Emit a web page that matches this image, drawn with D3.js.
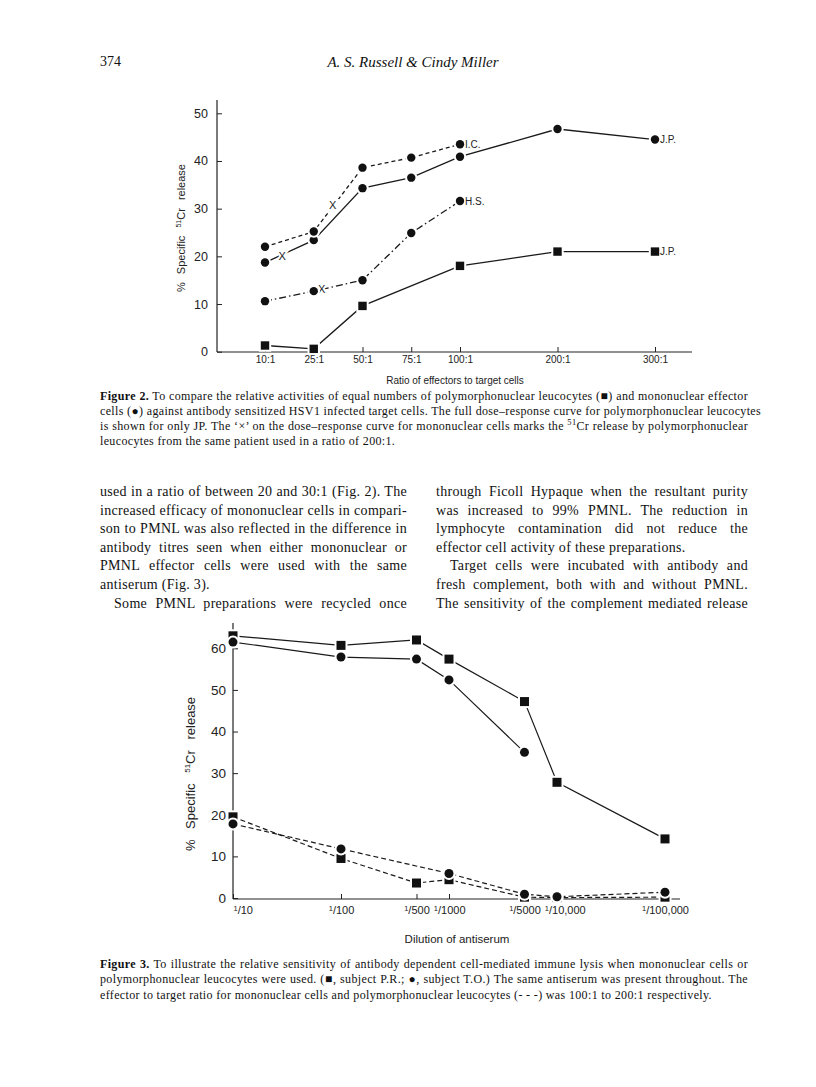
<!DOCTYPE html>
<html>
<head>
<meta charset="utf-8">
<script src="https://cdn.jsdelivr.net/npm/d3@7"></script>
<style>
  body { margin: 0; background: #fff; }
  #page { position: relative; width: 816px; height: 1087px; overflow: hidden; background: #fff; }
  svg { position: absolute; left: 0; top: 0; }
  svg text { font-family: "Liberation Sans", Arial, sans-serif; fill: #222; }
  .ln { position: absolute; white-space: nowrap; color: #111;
        font-family: "Liberation Serif", "Times New Roman", serif; }
  .just { text-align: justify; text-align-last: justify; }
  .ln sup { font-size: 70%; line-height: 0; }
</style>
</head>
<body>
<div id="page"></div>
<script>
"use strict";

// ---- Figure 2 data: ratio of effectors to target cells ----
var ratioLabels = ["10:1", "25:1", "50:1", "75:1", "100:1", "200:1", "300:1"];
var ratioSteps  = [0, 1, 2, 3, 4, 6, 8];          // printed axis is not to scale
var jpMono = [18.7, 23.4, 34.3, 36.5, 40.9, 46.7, 44.5];
var icMono = [22.0, 25.2, 38.6, 40.7, 43.5, null, null];
var hsMono = [10.6, 12.7, 15.0, 24.9, 31.6, null, null];
var jpPmnl = [1.3, 0.6, 9.6, null, 18.0, 21.0, 21.0];
// the 'x' marks: PMNL release at 200:1 placed on each mononuclear curve
var pmnlMarkStep  = [0.35, 1.39, 1.16];
var pmnlMarkValue = [20.1, 30.8, 13.1];
var fig2Ticks = [0, 10, 20, 30, 40, 50];

// ---- Figure 3 data: dilution of antiserum ----
var dilutions      = [10, 100, 500, 1000, 5000, 10000, 100000];
var dilutionLabels = ["10", "100", "500", "1000", "5000", "10,000", "100,000"];
var prMono = [63.0, 60.7, 62.0, 57.4, 47.2, 27.8, 14.2];
var toMono = [61.5, 57.9, 57.4, 52.4, 35.0, null, null];
var prPmnl = [19.5, 9.5, 3.6, 4.4, 0.2, 0.1, 0.2];
var toPmnl = [17.8, 11.8, null, 5.9, 0.9, 0.3, 1.4];
var fig3Ticks = [0, 10, 20, 30, 40, 50, 60];

// ---- page text ----
var fig2Caption = [
  "<b>Figure 2.</b> To compare the relative activities of equal numbers of polymorphonuclear leucocytes (&#9632;) and mononuclear effector",
  "cells (&#9679;) against antibody sensitized HSV1 infected target cells. The full dose&ndash;response curve for polymorphonuclear leucocytes",
  "is shown for only JP. The &lsquo;&times;&rsquo; on the dose&ndash;response curve for mononuclear cells marks the <sup>51</sup>Cr release by polymorphonuclear",
  "leucocytes from the same patient used in a ratio of 200:1."
];
var leftCol = [
  "used in a ratio of between 20 and 30:1 (Fig. 2). The",
  "increased efficacy of mononuclear cells in compari-",
  "son to PMNL was also reflected in the difference in",
  "antibody titres seen when either mononuclear or",
  "PMNL effector cells were used with the same",
  "antiserum (Fig. 3).",
  "Some PMNL preparations were recycled once"
];
var rightCol = [
  "through Ficoll Hypaque when the resultant purity",
  "was increased to 99% PMNL. The reduction in",
  "lymphocyte contamination did not reduce the",
  "effector cell activity of these preparations.",
  "Target cells were incubated with antibody and",
  "fresh complement, both with and without PMNL.",
  "The sensitivity of the complement mediated release"
];
var fig3Caption = [
  "<b>Figure 3.</b> To illustrate the relative sensitivity of antibody dependent cell-mediated immune lysis when mononuclear cells or",
  "polymorphonuclear leucocytes were used. (&#9632;, subject P.R.; &#9679;, subject T.O.) The same antiserum was present throughout. The",
  "effector to target ratio for mononuclear cells and polymorphonuclear leucocytes (- - -) was 100:1 to 200:1 respectively."
];

var page = d3.select("#page");

function textLine(x, yc, w, html, size, spacing, justify, indent) {
  var lh = Math.round(size * 1.3);
  page.append("div")
      .attr("class", "ln" + (justify ? " just" : ""))
      .style("left", (x + (indent || 0)) + "px")
      .style("top", (yc - lh / 2) + "px")
      .style("width", (w - (indent || 0)) + "px")
      .style("height", lh + "px")
      .style("line-height", lh + "px")
      .style("font-size", size + "px")
      .style("letter-spacing", spacing + "px")
      .html(html);
}

// running head
textLine(100, 62, 60, "374", 14, 0, false);
page.append("div").attr("class", "ln")
    .style("left", "213px").style("width", "400px").style("top", "53px")
    .style("text-align", "center").style("font-size", "15px").style("font-style", "italic")
    .style("line-height", "18px")
    .text("A. S. Russell & Cindy Miller");

fig2Caption.forEach(function(s, i) {
  textLine(100, 396 + i * 15, 648, s, 12, 0.35, i < fig2Caption.length - 1);
});
leftCol.forEach(function(s, i) {
  textLine(100, 492 + i * 18.6, 307, s, 14, 0.3, i != 5, i == 6 ? 14 : 0);
});
rightCol.forEach(function(s, i) {
  textLine(436, 492 + i * 18.6, 312, s, 14, 0.3, i != 3, i == 4 ? 14 : 0);
});
fig3Caption.forEach(function(s, i) {
  textLine(100, 964 + i * 15.3, 648, s, 12, 0.35, i < fig3Caption.length - 1);
});

var svg = page.append("svg").attr("width", 816).attr("height", 1087);

function series(vals, xs) {
  return vals.map(function(v, i) { return { x: xs[i], v: v }; })
             .filter(function(d) { return d.v != null; });
}

function drawMarkers(g, data, shape, size) {
  var halo = g.append("g"), fill = g.append("g");
  data.forEach(function(d) {
    if (shape == "circle") {
      halo.append("circle").attr("cx", d.px).attr("cy", d.py).attr("r", size + 2).attr("fill", "#fff");
      fill.append("circle").attr("cx", d.px).attr("cy", d.py).attr("r", size).attr("fill", "#111");
    } else {
      halo.append("rect").attr("x", d.px - size - 2).attr("y", d.py - size - 2)
          .attr("width", 2 * size + 4).attr("height", 2 * size + 4).attr("fill", "#fff");
      fill.append("rect").attr("x", d.px - size).attr("y", d.py - size)
          .attr("width", 2 * size).attr("height", 2 * size).attr("fill", "#111");
    }
  });
}

/*
  Figure 2
*/
var x2 = d3.scaleLinear().domain([0, 8]).range([265, 655]);
var y2 = d3.scaleLinear().domain([0, 50]).range([351.7, 113.3]);
var g2 = svg.append("g");

g2.append("line").attr("x1", 217).attr("x2", 217).attr("y1", 100).attr("y2", 352)
    .attr("stroke", "#222").attr("stroke-width", 1.2);
g2.append("line").attr("x1", 217).attr("x2", 692).attr("y1", 352).attr("y2", 352)
    .attr("stroke", "#222").attr("stroke-width", 1.2);

var yAxis2 = g2.append("g").attr("transform", "translate(217,0)")
    .call(d3.axisLeft(y2).tickValues(fig2Ticks).tickSize(-5).tickPadding(9));
yAxis2.select(".domain").remove();
yAxis2.selectAll("text").attr("font-size", 12.5).style("font-family", "Liberation Sans, sans-serif").attr("fill", "#222");
yAxis2.selectAll("line").attr("stroke", "#222");

var xAxis2 = g2.append("g").attr("transform", "translate(0,352)")
    .call(d3.axisBottom(x2).tickValues(ratioSteps)
      .tickFormat(function(d, i) { return ratioLabels[i]; })
      .tickSize(-5).tickPadding(4));
xAxis2.select(".domain").remove();
xAxis2.selectAll("text").attr("font-size", 10).style("font-family", "Liberation Sans, sans-serif").attr("fill", "#222");
xAxis2.selectAll("line").attr("stroke", "#222");

g2.append("text").attr("x", 455).attr("y", 384).attr("text-anchor", "middle")
    .attr("font-size", 10).text("Ratio of effectors to target cells");

var yl2 = g2.append("text").attr("transform", "translate(185,228) rotate(-90)")
    .attr("text-anchor", "middle").attr("font-size", 11).attr("word-spacing", 5);
yl2.append("tspan").text("% Specific ");
yl2.append("tspan").attr("font-size", 7).attr("dy", -4).text("51");
yl2.append("tspan").attr("dy", 4).text("Cr  release");

var line2 = d3.line().x(function(d) { return x2(d.x); }).y(function(d) { return y2(d.v); });
var fig2Series = [
  { vals: jpMono, shape: "circle", dash: null, label: "J.P." },
  { vals: icMono, shape: "circle", dash: "4,3", label: "I.C." },
  { vals: hsMono, shape: "circle", dash: "7,3,1.5,3", label: "H.S." },
  { vals: jpPmnl, shape: "square", dash: null, label: "J.P." }
];
fig2Series.forEach(function(s) {
  var d = series(s.vals, ratioSteps);
  g2.append("path").datum(d).attr("d", line2).attr("fill", "none")
      .attr("stroke", "#1a1a1a").attr("stroke-width", 1.3)
      .attr("stroke-dasharray", s.dash);
});
// 'x' marks sit on the curves, breaking the line
pmnlMarkStep.forEach(function(st, i) {
  g2.append("text").attr("x", x2(st)).attr("y", y2(pmnlMarkValue[i]))
      .attr("dy", "0.36em").attr("text-anchor", "middle").attr("font-size", 11)
      .attr("stroke", "#fff").attr("stroke-width", 4).attr("paint-order", "stroke")
      .text("X");
});
fig2Series.forEach(function(s) {
  var d = series(s.vals, ratioSteps).map(function(p) {
    return { px: x2(p.x), py: y2(p.v) };
  });
  drawMarkers(g2, d, s.shape, 4.2);
  var lastPt = d[d.length - 1];
  g2.append("text").attr("x", lastPt.px + 5).attr("y", lastPt.py).attr("dy", "0.35em")
      .attr("font-size", 10).text(s.label);
});

/*
  Figure 3
*/
var x3 = d3.scaleLog().domain([10, 100000]).range([233, 665]);
var y3 = d3.scaleLinear().domain([0, 60]).range([898, 648.3]);
var g3 = svg.append("g");

g3.append("line").attr("x1", 233).attr("x2", 233).attr("y1", 623).attr("y2", 899)
    .attr("stroke", "#222").attr("stroke-width", 1.2);
g3.append("line").attr("x1", 233).attr("x2", 680).attr("y1", 899).attr("y2", 899)
    .attr("stroke", "#222").attr("stroke-width", 1.2);

var yAxis3 = g3.append("g").attr("transform", "translate(233,0)")
    .call(d3.axisLeft(y3).tickValues(fig3Ticks).tickSize(-5).tickPadding(7));
yAxis3.select(".domain").remove();
yAxis3.selectAll("text").attr("font-size", 13.5).style("font-family", "Liberation Sans, sans-serif").attr("fill", "#222");
yAxis3.selectAll("line").attr("stroke", "#222");

var xAxis3 = g3.append("g").attr("transform", "translate(0,899)")
    .call(d3.axisBottom(x3).tickValues(dilutions).tickFormat("").tickSize(-5));
xAxis3.select(".domain").remove();
xAxis3.selectAll("line").attr("stroke", "#222");
var prevRight = -Infinity;
xAxis3.selectAll(".tick").each(function(d, i) {
  var t = d3.select(this).append("text").attr("y", 15).attr("text-anchor", "middle")
      .attr("font-size", 11).attr("fill", "#222")
      .style("font-family", "Liberation Sans, sans-serif");
  t.append("tspan").attr("font-size", 7.5).attr("dy", -3).text("1");
  t.append("tspan").attr("dy", 3).text("/" + dilutionLabels[i]);
  // push a label right if it would run into the one before it
  var w = t.node().getComputedTextLength(), left = x3(d) - w / 2;
  if (i == 0) left = x3(d);
  if (left < prevRight + 4) left = prevRight + 4;
  t.attr("text-anchor", "start").attr("x", left - x3(d));
  prevRight = left + w;
});

g3.append("text").attr("x", 457).attr("y", 943).attr("text-anchor", "middle")
    .attr("font-size", 11.5).text("Dilution of antiserum");

var yl3 = g3.append("text").attr("transform", "translate(195,774) rotate(-90)")
    .attr("text-anchor", "middle").attr("font-size", 13).attr("word-spacing", 7);
yl3.append("tspan").text("% Specific ");
yl3.append("tspan").attr("font-size", 8).attr("dy", -5).text("51");
yl3.append("tspan").attr("dy", 5).text("Cr  release");

var line3 = d3.line().x(function(d) { return x3(d.x); }).y(function(d) { return y3(d.v); });
var fig3Series = [
  { vals: prMono, shape: "square", dash: null },
  { vals: toMono, shape: "circle", dash: null },
  { vals: prPmnl, shape: "square", dash: "5,3" },
  { vals: toPmnl, shape: "circle", dash: "5,3" }
];
fig3Series.forEach(function(s) {
  g3.append("path").datum(series(s.vals, dilutions)).attr("d", line3).attr("fill", "none")
      .attr("stroke", "#1a1a1a").attr("stroke-width", 1.2)
      .attr("stroke-dasharray", s.dash);
});
fig3Series.forEach(function(s) {
  var d = series(s.vals, dilutions).map(function(p) {
    return { px: x3(p.x), py: y3(p.v) };
  });
  drawMarkers(g3, d, s.shape, 4.5);
});
</script>
</body>
</html>
